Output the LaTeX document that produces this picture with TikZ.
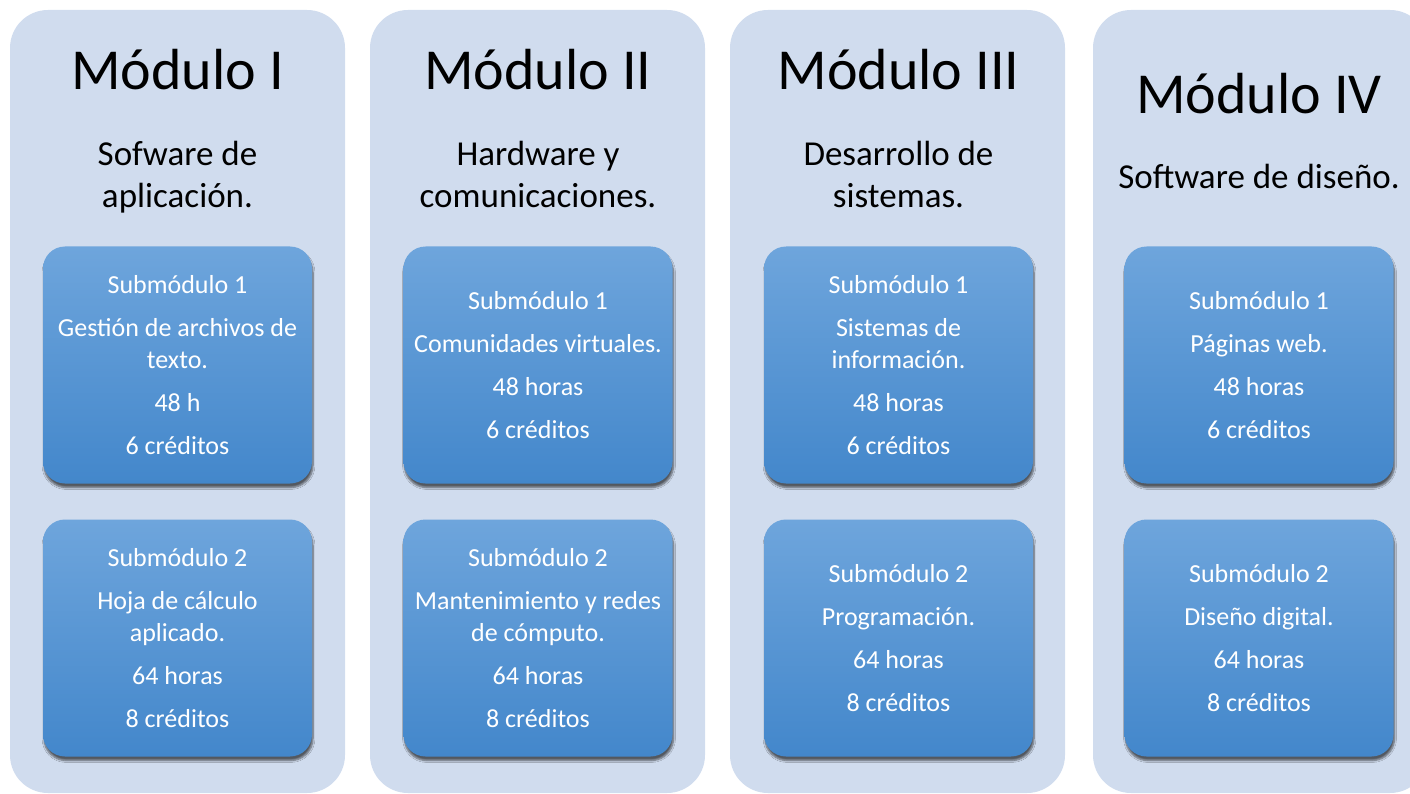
\documentclass[tikz,border=0pt]{standalone}
\usepackage{fontspec}
\setmainfont{Carlito}
\usetikzlibrary{shadows.blur}
\definecolor{colbg}{HTML}{D0DCEE}
\definecolor{boxtop}{HTML}{6EA5DC}
\definecolor{boxbot}{HTML}{4387CB}
\tikzset{
  modcol/.style={fill=colbg,rounded corners=38pt},
  modtitle/.style={anchor=base,font=\fontsize{58}{70}\selectfont},
  modsub/.style={align=center,inner sep=0pt,font=\fontsize{35}{42}\selectfont},
  subbox/.style={rounded corners=22pt,top color=boxtop,bottom color=boxbot,
    minimum width=269pt,minimum height=237pt,align=center,text=white,
    font=\fontsize{26}{32}\selectfont,
    blur shadow={shadow xshift=1pt,shadow yshift=-4pt,shadow blur steps=6,shadow opacity=60}}
}
\begin{document}
\begin{tikzpicture}[x=1pt,y=-1pt]
	\useasboundingbox (0,0) rectangle (1410,794);
	\clip (0,0) rectangle (1410,794);

	% columnas
	\fill[modcol] (10,10) rectangle (345,793);
	\fill[modcol] (370,10) rectangle (705,793);
	\fill[modcol] (730,10) rectangle (1065,793);
	\fill[modcol] (1093,10) rectangle (1428,793);

	% modulo I
	\node[modtitle] (t1) at (177.5,90) {Módulo I};
	\node[modsub] (s1) at (177.5,178) {\strut Sofware de\\\strut aplicación.};
	\node[subbox] (m1a) at (177.5,365) {Submódulo 1\\[11pt]Gestión de archivos de\\texto.\\[11pt]48 h\\[11pt]6 créditos};
	\node[subbox] (m1b) at (177.5,638) {Submódulo 2\\[11pt]Hoja de cálculo\\aplicado.\\[11pt]64 horas\\[11pt]8 créditos};

	% modulo II
	\node[modtitle] (t2) at (538,90) {Módulo II};
	\node[modsub] (s2) at (538,178) {\strut Hardware y\\\strut comunicaciones.};
	\node[subbox] (m2a) at (538,365) {Submódulo 1\\[11pt]Comunidades virtuales.\\[11pt]48 horas\\[11pt]6 créditos};
	\node[subbox] (m2b) at (538,638) {Submódulo 2\\[11pt]Mantenimiento y redes\\de cómputo.\\[11pt]64 horas\\[11pt]8 créditos};

	% modulo III
	\node[modtitle] (t3) at (898.5,90) {Módulo III};
	\node[modsub] (s3) at (898.5,178) {\strut Desarrollo de\\\strut sistemas.};
	\node[subbox] (m3a) at (898.5,365) {Submódulo 1\\[11pt]Sistemas de\\información.\\[11pt]48 horas\\[11pt]6 créditos};
	\node[subbox] (m3b) at (898.5,638) {Submódulo 2\\[11pt]Programación.\\[11pt]64 horas\\[11pt]8 créditos};

	% modulo IV
	\node[modtitle] (t4) at (1259,114) {Módulo IV};
	\node[modsub,anchor=base] (s4) at (1259,189) {Software de diseño.};
	\node[subbox] (m4a) at (1259,365) {Submódulo 1\\[11pt]Páginas web.\\[11pt]48 horas\\[11pt]6 créditos};
	\node[subbox] (m4b) at (1259,638) {Submódulo 2\\[11pt]Diseño digital.\\[11pt]64 horas\\[11pt]8 créditos};
\end{tikzpicture}
\end{document}
